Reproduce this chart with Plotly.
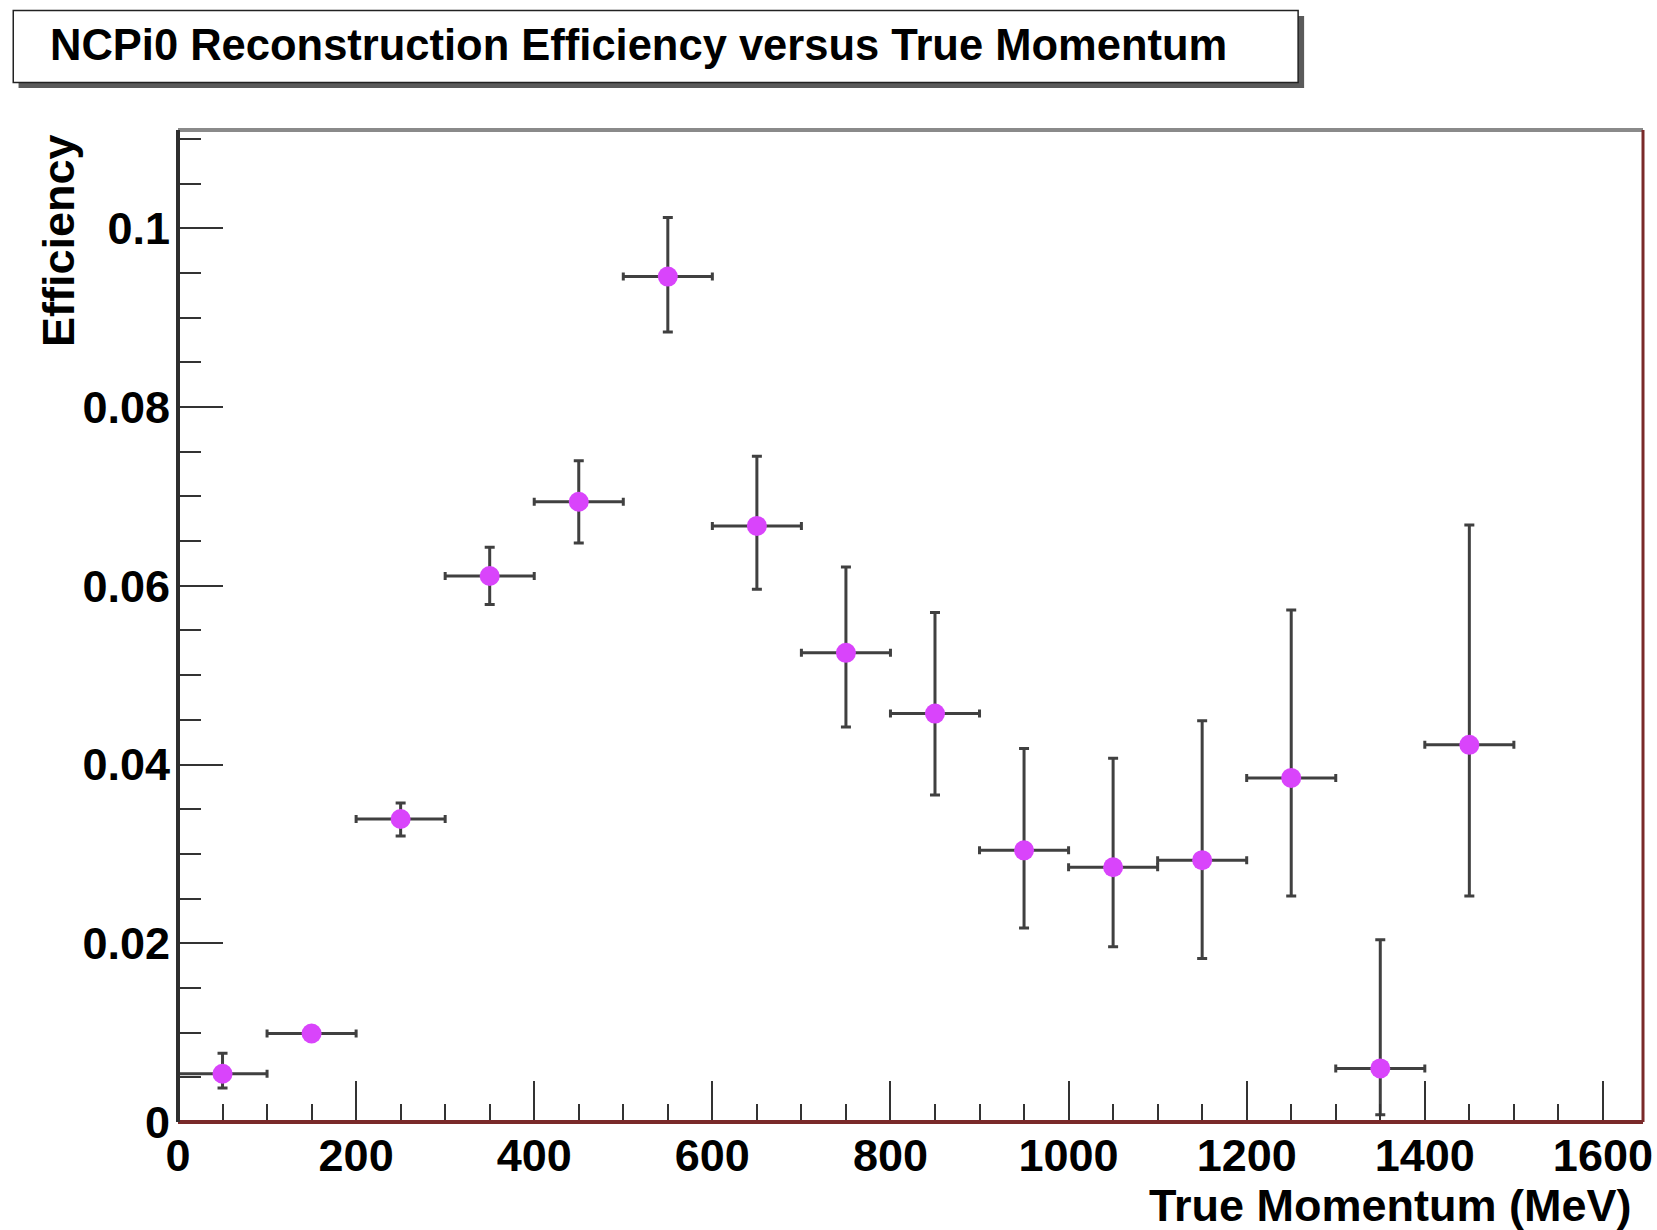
import plotly.graph_objects as go

# Bin centres (MeV) and half bin width
momentum = [50, 150, 250, 350, 450, 550, 650, 750, 850, 950, 1050, 1150, 1250, 1350, 1450]
half_bin = [50] * 15

# Reconstruction efficiency per bin with asymmetric uncertainties
efficiency = [0.0054, 0.0099, 0.0339, 0.0611, 0.0694, 0.0946, 0.0667, 0.0525,
              0.0457, 0.0304, 0.0285, 0.0293, 0.0385, 0.0060, 0.0422]
err_up = [0.0023, 0.0004, 0.0018, 0.0032, 0.0046, 0.0066, 0.0078, 0.0096,
          0.0113, 0.0114, 0.0122, 0.0156, 0.0188, 0.0144, 0.0246]
err_down = [0.0016, 0.0004, 0.0019, 0.0032, 0.0046, 0.0062, 0.0071, 0.0083,
            0.0091, 0.0087, 0.0089, 0.0110, 0.0132, 0.0052, 0.0169]

x_ticks = [0, 200, 400, 600, 800, 1000, 1200, 1400, 1600]
y_ticks = [0, 0.02, 0.04, 0.06, 0.08, 0.1]
y_tick_text = ["0", "0.02", "0.04", "0.06", "0.08", "0.1"]

title_text = "NCPi0 Reconstruction Efficiency versus True Momentum"
x_title = "True Momentum (MeV)"
y_title = "Efficiency"

W, H = 1657, 1230
L, R, T, B = 177.5, 1643.0, 130.0, 1122.0  # plot frame in pixels


def px_x(p):
    return (p - L) / (R - L)


def px_y(p):
    return (B - p) / (B - T)


FONT = "Liberation Sans, Arial, Helvetica, sans-serif"
ERR_COL = "#404040"

fig = go.Figure()
fig.add_trace(go.Scatter(
    x=momentum, y=efficiency, mode="markers",
    marker=dict(color="#d944fb", size=20, line=dict(width=0)),
    error_x=dict(type="data", array=half_bin, color=ERR_COL, thickness=3, width=4),
    error_y=dict(type="data", symmetric=False, array=err_up, arrayminus=err_down,
                 color=ERR_COL, thickness=3, width=5),
    showlegend=False,
))

axis_font = dict(family=FONT, size=45, color="black", weight=700)

fig.update_xaxes(
    range=[0, 1645], tickvals=x_ticks, ticks="inside", ticklen=41, tickwidth=2,
    tickcolor="#333", tickfont=axis_font, showgrid=False, zeroline=False,
    showline=False, automargin=False, ticklabelstandoff=3,
    minor=dict(dtick=50, tick0=0, ticks="inside", ticklen=18, tickwidth=2,
               tickcolor="#333", showgrid=False),
)
fig.update_yaxes(
    range=[0, 0.111], tickvals=y_ticks, ticktext=y_tick_text, ticks="inside",
    ticklen=45, tickwidth=2, tickcolor="#333", tickfont=axis_font,
    showgrid=False, zeroline=False, showline=False, ticklabelstandoff=7,
    automargin=False,
    minor=dict(dtick=0.005, tick0=0, ticks="inside", ticklen=23, tickwidth=2,
               tickcolor="#333", showgrid=False),
)

shapes = [
    # frame: top grey, left dark, bottom and right dark red
    dict(type="line", xref="paper", yref="paper", x0=0, x1=1, y0=1, y1=1,
         line=dict(color="#8a8a8a", width=4)),
    dict(type="line", xref="paper", yref="paper", x0=1, x1=1, y0=0, y1=1,
         line=dict(color="#7a2a2a", width=3)),
    dict(type="line", xref="paper", yref="paper", x0=0, x1=1, y0=0, y1=0,
         line=dict(color="#7a2a2a", width=4)),
    dict(type="line", xref="paper", yref="paper", x0=0, x1=0, y0=0, y1=1,
         line=dict(color="#2e2e2e", width=4)),
    # title pave shadow and box
    dict(type="rect", xref="paper", yref="paper",
         x0=px_x(18), x1=px_x(1304), y0=px_y(88), y1=px_y(16),
         line=dict(width=0), fillcolor="#5a5a5a", layer="above"),
    dict(type="rect", xref="paper", yref="paper",
         x0=px_x(12.7), x1=px_x(1298), y0=px_y(82.4), y1=px_y(10.6),
         line=dict(color="#222", width=1.5), fillcolor="white", layer="above"),
]

annotations = [
    dict(text=title_text, xref="paper", yref="paper", x=px_x(47), y=px_y(45),
         xanchor="left", yanchor="middle", showarrow=False,
         font=dict(family=FONT, size=43.5, color="black", weight=700)),
    dict(text=x_title, xref="paper", yref="paper", x=px_x(1634), y=px_y(1205),
         xanchor="right", yanchor="middle", showarrow=False,
         font=dict(family=FONT, size=45, color="black", weight=700)),
    dict(text=y_title, xref="paper", yref="paper", x=px_x(58), y=px_y(132),
         xanchor="center", yanchor="top", textangle=-90, showarrow=False,
         font=dict(family=FONT, size=45, color="black", weight=700)),
]

fig.update_layout(
    width=W, height=H,
    margin=dict(l=L, r=W - R, t=T, b=H - B, pad=0, autoexpand=False),
    paper_bgcolor="white", plot_bgcolor="white",
    shapes=shapes, annotations=annotations,
)

fig.write_html("out.html")
